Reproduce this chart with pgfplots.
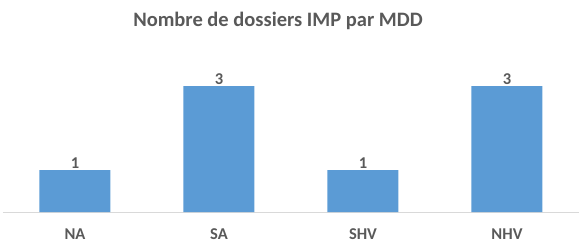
\documentclass[border=0pt]{standalone}
\usepackage{fontspec}
\setmainfont{Carlito}
\usepackage{pgfplots}
\pgfplotsset{compat=1.18}
\definecolor{barblue}{HTML}{5B9BD5}
\definecolor{txtgray}{HTML}{595959}
\definecolor{axgray}{HTML}{D9D9D9}
\begin{document}
\begin{tikzpicture}[x=1pt,y=1pt]
\path[use as bounding box] (-3,-38) rectangle (581,212);
\begin{axis}[
  at={(0,0)}, anchor=south west,
  scale only axis, width=576pt, height=147pt,
  xmin=-0.5, xmax=3.5, ymin=0, ymax=3.5,
  axis y line=none,
  axis x line*=bottom,
  x axis line style={axgray, line width=0.8pt, -},
  xtick=data, xticklabels={NA,SA,SHV,NHV},
  xtick style={draw=none},
  xticklabel style={font=\fontsize{16.5}{18}\selectfont\bfseries, text=txtgray, yshift=-9pt},
  ybar, bar width=71pt,
  nodes near coords,
  every node near coord/.append style={font=\fontsize{16.5}{18}\selectfont\bfseries, text=txtgray, yshift=-2pt},
  /pgf/number format/assume math mode=true,
  clip=false,
]
\addplot[fill=barblue, draw=none] coordinates {(0,1) (1,3) (2,1) (3,3)};
\end{axis}
\node[font=\fontsize{20.5}{22}\selectfont\bfseries, text=txtgray] at (275,191) {Nombre de dossiers IMP par MDD};
\end{tikzpicture}
\end{document}
